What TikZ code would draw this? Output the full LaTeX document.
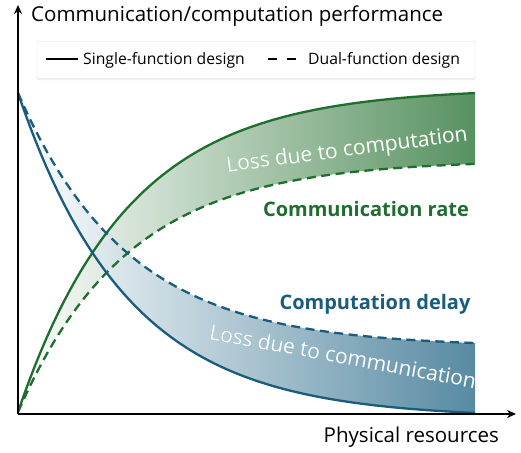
\documentclass[tikz,border=0pt]{standalone}
\usepackage{fontspec}
\setmainfont{Open Sans}
\usepackage[outline]{contour}
\usepackage{tikz}
\usetikzlibrary{arrows.meta,shadows,positioning}
\definecolor{commgreen}{RGB}{30,110,45}
\definecolor{compblue}{RGB}{25,92,125}
\definecolor{bandgreen}{RGB}{58,126,68}
\definecolor{bandblue}{RGB}{58,118,146}
\definecolor{glowgreen}{RGB}{125,178,130}
\definecolor{glowblue}{RGB}{115,160,185}
\contourlength{1.1pt}
\contournumber{16}

\tikzset{
  axis/.style={line width=2.8pt, -{Stealth[length=9pt,width=8pt]}},
  solidcurve/.style={line width=2.3pt},
  dashcurve/.style={line width=2.3pt, dash pattern=on 9pt off 5.5pt},
  axislabel/.style={font=\fontsize{20.5}{20.5}\selectfont, inner sep=0pt},
  legendtext/.style={font=\fontsize{15.7}{15.7}\selectfont, inner sep=0pt, anchor=base west},
  curvelabel/.style={font=\fontsize{20}{20}\selectfont\bfseries, inner sep=0pt},
  losslabel/.style={font=\fontsize{21}{21}\selectfont, inner sep=0pt, text=white},
}

\begin{document}
\begin{tikzpicture}[x=1pt,y=-1pt]
  \useasboundingbox (0,0) rectangle (521,452);

  % bands between single and dual designs
  \path[left color=white, right color=bandgreen, fill opacity=0.85]
    plot[domain=18:475,samples=80] (\x,{412-324*(1-exp(-(\x-18)/110))})
    -- plot[domain=475:18,samples=80] (\x,{412-252*(1-exp(-(\x-18)/110))}) -- cycle;
  \path[left color=white, right color=bandblue, fill opacity=0.85]
    plot[domain=18:475,samples=80] (\x,{93+325*(1-exp(-(\x-18)/110))})
    -- plot[domain=475:18,samples=80] (\x,{93+254*(1-exp(-(\x-18)/110))}) -- cycle;

  % curves
  \draw[solidcurve, commgreen] plot[domain=18:475,samples=80] (\x,{412-324*(1-exp(-(\x-18)/110))});
  \draw[dashcurve, commgreen] plot[domain=18:475,samples=80] (\x,{412-252*(1-exp(-(\x-18)/110))});
  \draw[solidcurve, compblue] plot[domain=18:475,samples=80] (\x,{93+325*(1-exp(-(\x-18)/110))});
  \draw[dashcurve, compblue] plot[domain=18:475,samples=80] (\x,{93+254*(1-exp(-(\x-18)/110))});

  % axes
  \coordinate (origin) at (18,414);
  \coordinate (xend) at (516,414);
  \coordinate (yend) at (18,5);
  \draw[axis] (origin) -- (xend);
  \draw[axis] (origin) -- (yend);
  \node[axislabel, anchor=base west] (ylabel) at (31,22) {Communication/computation performance};
  \node[axislabel, anchor=base east] (xlabel) at (499,442) {Physical resources};

  % legend
  \node[draw=black!12, fill=white, rounded corners=2pt, minimum width=438pt, minimum height=37pt,
        drop shadow={opacity=0.12, shadow xshift=0pt, shadow yshift=-1.5pt}] (legend) at (256,60) {};
  \coordinate (solidA) at (46,59);
  \coordinate (solidB) at (78,59);
  \coordinate (dashA) at (268,59);
  \coordinate (dashB) at (296,59);
  \draw[line width=2.6pt] (solidA) -- (solidB);
  \draw[line width=2.6pt, dash pattern=on 9pt off 10pt] (dashA) -- (dashB);
  \node[legendtext] (singletext) at (83,64.5) {Single-function design};
  \node[legendtext] (dualtext) at (308,64.5) {Dual-function design};

  % curve labels
  \node[curvelabel, text=commgreen] (ratelabel) at (366,209) {Communication rate};
  \node[curvelabel, text=compblue] (delaylabel) at (375,304) {Computation delay};
  \node[losslabel, rotate=7.5] (losscomp) at (347,151) {\contour{glowgreen}{Loss due to computation}};
  \node[losslabel, rotate=-10.5] (losscomm) at (343,356) {\contour{glowblue}{Loss due to communication}};
\end{tikzpicture}
\end{document}
